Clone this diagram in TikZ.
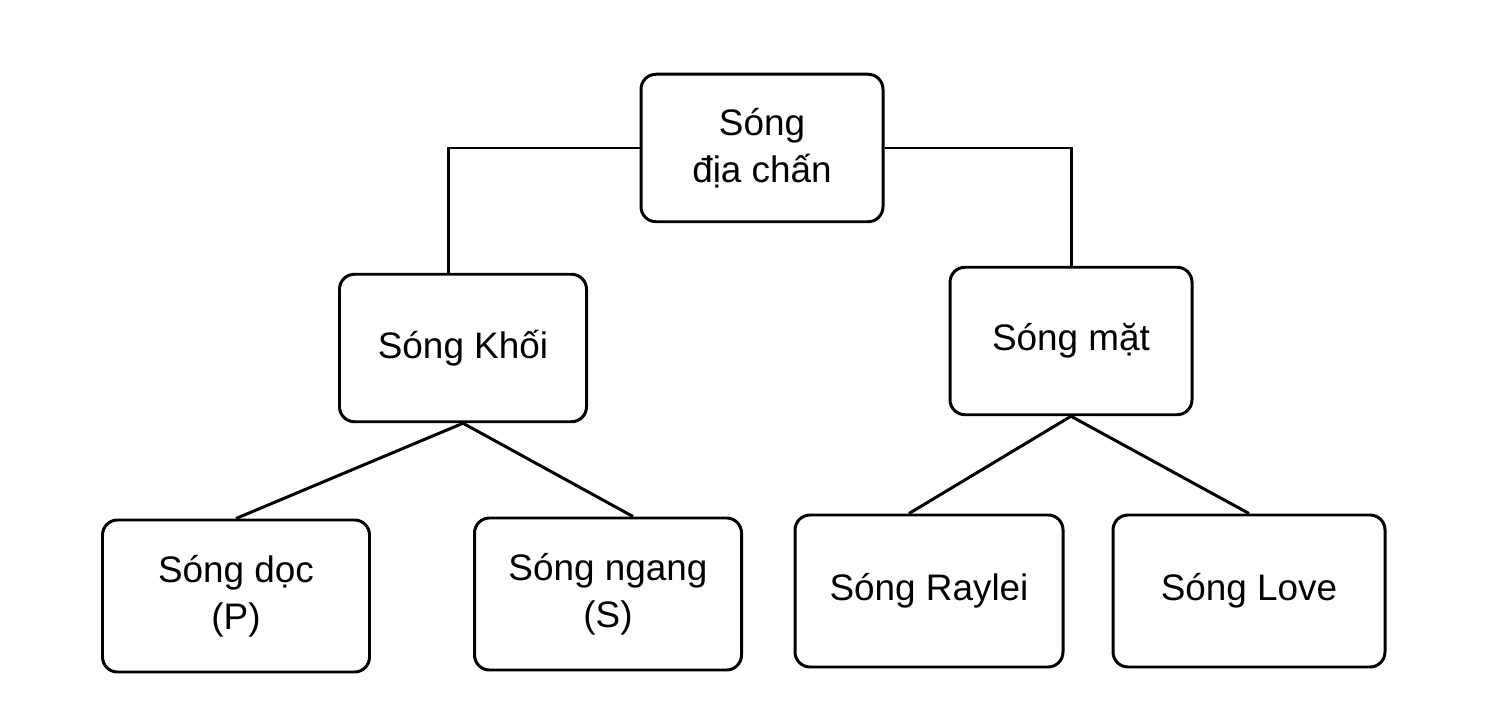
\documentclass[tikz,border=0pt]{standalone}
\usepackage{fontspec}
\setmainfont{Liberation Sans}
\usetikzlibrary{positioning}
\tikzset{
  wavebox/.style={draw, line width=1.7pt, rounded corners=0.3cm, align=center,
    minimum width=4.9cm, minimum height=2.95cm, font=\fontsize{21}{27}\selectfont},
  link/.style={line width=1.7pt}
}
\begin{document}
\begin{tikzpicture}
\useasboundingbox (0,0) rectangle (30,14.2);
% root and the two main kinds
\node[wavebox, minimum width=4.84cm] (song) at (15.24,11.24) {Sóng\\địa chấn};
\node[wavebox, minimum width=4.94cm] (khoi) at (9.26,7.24) {Sóng Khối};
\node[wavebox, minimum width=4.84cm] (mat) at (21.42,7.38) {Sóng mặt};
% leaves
\node[wavebox, minimum width=5.34cm, minimum height=3.04cm] (doc) at (4.72,2.28) {Sóng dọc\\(P)};
\node[wavebox, minimum width=5.34cm, minimum height=3.04cm] (ngang) at (12.16,2.32) {Sóng ngang\\(S)};
\node[wavebox, minimum width=5.36cm, minimum height=3.04cm] (raylei) at (18.58,2.38) {Sóng Raylei};
\node[wavebox, minimum width=5.44cm, minimum height=3.04cm] (love) at (24.98,2.38) {Sóng Love};
\draw[link] (song.west) -| ([xshift=-0.3cm]khoi.north);
\draw[link] (song.east) -| (mat.north);
\draw[link] (khoi.south) -- (doc.north);
\draw[link] (khoi.south) -- ([xshift=0.5cm]ngang.north);
\draw[link] (mat.south) -- ([xshift=-0.4cm]raylei.north);
\draw[link] (mat.south) -- (love.north);
\end{tikzpicture}
\end{document}
